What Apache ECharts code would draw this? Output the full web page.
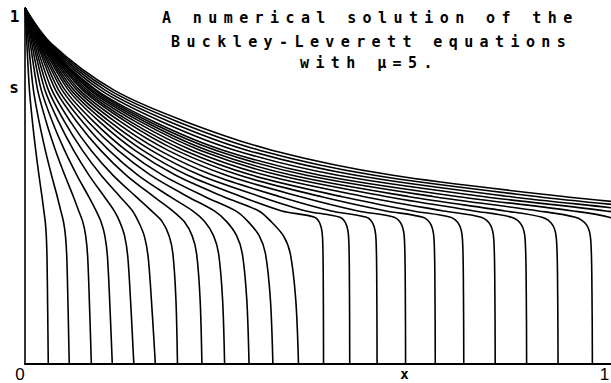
<!DOCTYPE html>
<html><head><meta charset="utf-8">
<script src="https://cdn.jsdelivr.net/npm/echarts@6/dist/echarts.min.js"></script>
<style>html,body{margin:0;padding:0;background:#fff}#chart{width:611px;height:383px}</style>
</head><body><div id="chart"></div>
<script>
// Position of each front (x where the profile meets s = 0)
const shockX = [0.040, 0.076, 0.114, 0.150, 0.187, 0.224, 0.262, 0.304, 0.343, 0.385,
                0.426, 0.470, 0.513, 0.558, 0.605, 0.654, 0.705, 0.754, 0.808, 0.862,
                0.916, 0.975, 1.035, 1.097, 1.160, 1.225, 1.290];
// s levels, and for each profile the x at that level as a fraction of its front position
const levelS = [0.90, 0.77, 0.68, 0.60, 0.53, 0.47, 0.43];
const fracRows = [
  [0.080, 0.190, 0.320, 0.460, 0.600, 0.730, 0.810],
  [0.080, 0.190, 0.320, 0.460, 0.600, 0.730, 0.810],
  [0.080, 0.190, 0.320, 0.460, 0.600, 0.730, 0.810],
  [0.078, 0.186, 0.315, 0.454, 0.595, 0.730, 0.815],
  [0.076, 0.183, 0.310, 0.447, 0.589, 0.729, 0.820],
  [0.073, 0.179, 0.304, 0.441, 0.584, 0.729, 0.825],
  [0.071, 0.176, 0.299, 0.434, 0.578, 0.728, 0.830],
  [0.069, 0.172, 0.294, 0.428, 0.573, 0.728, 0.835],
  [0.067, 0.168, 0.289, 0.421, 0.567, 0.727, 0.840],
  [0.064, 0.165, 0.283, 0.415, 0.562, 0.727, 0.845],
  [0.062, 0.161, 0.278, 0.408, 0.556, 0.726, 0.850],
  [0.060, 0.158, 0.273, 0.402, 0.551, 0.726, 0.855],
  [0.058, 0.154, 0.268, 0.395, 0.545, 0.725, 0.860],
  [0.055, 0.150, 0.262, 0.389, 0.540, 0.725, 0.865],
  [0.053, 0.147, 0.257, 0.382, 0.534, 0.724, 0.870],
  [0.051, 0.143, 0.252, 0.376, 0.529, 0.724, 0.875],
  [0.049, 0.140, 0.247, 0.369, 0.523, 0.723, 0.880],
  [0.046, 0.136, 0.241, 0.363, 0.518, 0.723, 0.885],
  [0.044, 0.132, 0.236, 0.356, 0.512, 0.722, 0.890],
  [0.042, 0.129, 0.231, 0.350, 0.507, 0.722, 0.895],
  [0.040, 0.125, 0.226, 0.343, 0.501, 0.721, 0.900],
  [0.037, 0.122, 0.220, 0.337, 0.496, 0.721, 0.905],
  [0.035, 0.118, 0.215, 0.330, 0.490, 0.720, 0.910],
  [0.035, 0.118, 0.215, 0.330, 0.490, 0.720, 0.910],
  [0.035, 0.118, 0.215, 0.330, 0.490, 0.720, 0.910],
  [0.035, 0.118, 0.215, 0.330, 0.490, 0.720, 0.910],
  [0.035, 0.118, 0.215, 0.330, 0.490, 0.720, 0.910]
];
// Shape of the drop into the front (s levels and x fractions), three kinds
const cornerS = {
  early: [0.40, 0.36, 0.30, 0.15, 0.00],
  mid:   [0.40, 0.36, 0.31, 0.18, 0.00],
  late:  [0.412, 0.39, 0.35, 0.20, 0.00]
};
const cornerFrac = {
  early: [0.870, 0.915, 0.945, 0.975, 1.000],
  mid:   [0.900, 0.945, 0.970, 0.990, 1.000],
  late:  [0.970, 0.990, 0.997, 0.9993, 1.000]
};
const cornerKind = ['early','early','early','early','early','early',
                    'mid','mid','mid','mid','mid','mid',
                    'late','late','late','late','late','late','late','late',
                    'late','late','late','late','late','late','late'];
const titleLines = ['A numerical solution of the', 'Buckley-Leverett equations', 'with \u03bc=5.'];
const xTickLabels = ['0', '1'];
const yTickLabels = ['1'];
const xName = 'x', yName = 's';

function curveData(k) {
  const X = shockX[k];
  const pts = [[0, 1]];
  levelS.forEach((s, i) => pts.push([fracRows[k][i] * X, s]));
  const kind = cornerKind[k];
  cornerS[kind].forEach((s, j) => pts.push([cornerFrac[kind][j] * X, s]));
  return pts;
}

const series = shockX.map((X, k) => ({
  type: 'line', data: curveData(k), showSymbol: false, smooth: 0.3,
  lineStyle: { color: '#000', width: 1.6 }, silent: true, clip: true
}));

function txt(t, x, y, font, align) {
  return { type: 'text', x: x, y: y, silent: true,
    style: { text: t, fill: '#000', font: font, align: align, textAlign: align,
             verticalAlign: 'middle', textVerticalAlign: 'middle' } };
}
const titleFont = 'bold 15px "DejaVu Sans Mono"';
const graphic = [
  txt(titleLines[0], 162, 17.8, titleFont, 'left'),
  txt(titleLines[1], 171, 41.8, titleFont, 'left'),
  txt(titleLines[2], 300, 62.8, titleFont, 'left'),
  txt(yTickLabels[0], 14.5, 16, 'bold 16px "DejaVu Sans Mono"', 'center'),
  txt(yName, 14, 87, 'bold 16px "DejaVu Sans Mono"', 'center'),
  txt(xTickLabels[0], 20, 374, '17px "Liberation Sans"', 'center'),
  txt(xTickLabels[1], 604.5, 374, '17px "Liberation Sans"', 'center'),
  txt(xName, 404.5, 373.5, 'bold 14px "DejaVu Sans Mono"', 'center')
];

const chart = echarts.init(document.getElementById('chart'), null, { renderer: 'svg' });
chart.setOption({
  animation: false,
  backgroundColor: '#fff',
  grid: { left: 25, right: 0, top: 8, bottom: 19, containLabel: false },
  xAxis: { type: 'value', min: 0, max: 1.007,
    axisLine: { show: true, lineStyle: { color: '#000', width: 2 } },
    axisTick: { show: false }, axisLabel: { show: false }, splitLine: { show: false } },
  yAxis: { type: 'value', min: 0, max: 1,
    axisLine: { show: true, lineStyle: { color: '#000', width: 1.6 } },
    axisTick: { show: false }, axisLabel: { show: false }, splitLine: { show: false } },
  series: series,
  graphic: graphic
});
function applySpacing() {
  document.querySelectorAll('#chart text').forEach(t => {
    if (titleLines.indexOf(t.textContent) >= 0) t.style.letterSpacing = '6.4px';
  });
}
applySpacing();
chart.on('finished', applySpacing);
setTimeout(applySpacing, 30);
</script></body></html>
